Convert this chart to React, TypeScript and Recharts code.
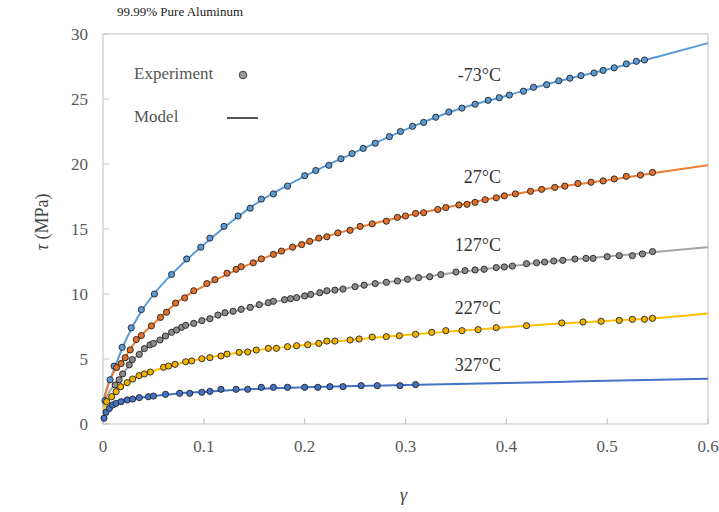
import {
  ComposedChart,
  Line,
  ReferenceLine,
  Scatter,
  XAxis,
  YAxis,
} from "recharts";

// model curves, sampled on a shared strain grid
const gammaGrid = [0, 0.0025, 0.005, 0.01, 0.02, 0.03, 0.04, 0.05, 0.075, 0.1, 0.15, 0.2, 0.25, 0.3, 0.35, 0.4, 0.45, 0.5, 0.55, 0.6];
const modelM73 = [1.6, 2.4, 3.0, 4.0, 6.0, 7.6, 8.9, 9.95, 12.05, 13.8, 16.85, 19.05, 20.9, 22.65, 24.15, 25.25, 26.35, 27.27, 28.25, 29.3];
const model27 = [1.4, 2.3, 3.0, 3.9, 4.9, 6.1, 6.97, 7.7, 9.45, 10.6, 12.45, 13.9, 15.05, 16.0, 16.8, 17.58, 18.22, 18.75, 19.35, 19.9];
const model127 = [1.3, 1.9, 2.3, 2.9, 3.85, 4.95, 5.7, 6.2, 7.32, 8.0, 9.05, 9.85, 10.56, 11.1, 11.65, 12.1, 12.55, 12.88, 13.25, 13.6];
const model227 = [1.0, 1.45, 1.75, 2.2, 2.98, 3.48, 3.82, 4.08, 4.65, 5.05, 5.65, 6.08, 6.5, 6.85, 7.15, 7.45, 7.72, 7.93, 8.15, 8.5];
const model327 = [0.3, 0.9, 1.2, 1.5, 1.8, 1.95, 2.05, 2.15, 2.35, 2.47, 2.7, 2.82, 2.92, 3.0, 3.08, 3.16, 3.24, 3.32, 3.4, 3.48];

// experiment points: [gamma, tau]
const expM73 = [
  [0.002, 1.8], [0.007, 3.4], [0.011, 4.45], [0.019, 5.9], [0.028, 7.4], [0.038, 8.8], [0.051, 10.0],
  [0.068, 11.5], [0.083, 12.7], [0.097, 13.6], [0.106, 14.3], [0.12, 15.2], [0.134, 16.0], [0.146, 16.6],
  [0.157, 17.3], [0.169, 17.7], [0.183, 18.3], [0.2, 19.1], [0.211, 19.5], [0.224, 19.9], [0.236, 20.4],
  [0.247, 20.8], [0.258, 21.2], [0.27, 21.6], [0.284, 22.1], [0.295, 22.5], [0.307, 22.9], [0.318, 23.2],
  [0.33, 23.6], [0.343, 24.0], [0.356, 24.3], [0.369, 24.6], [0.382, 24.9], [0.393, 25.1], [0.403, 25.3],
  [0.417, 25.6], [0.427, 25.9], [0.44, 26.1], [0.452, 26.4], [0.463, 26.6], [0.474, 26.8], [0.487, 27.0],
  [0.496, 27.2], [0.507, 27.4], [0.519, 27.7], [0.529, 27.9], [0.537, 28.0],
];
const exp27 = [
  [0.0135, 4.35], [0.018, 4.65], [0.022, 5.1], [0.027, 5.7], [0.033, 6.5], [0.038, 6.8], [0.048, 7.55],
  [0.057, 8.2], [0.063, 8.6], [0.072, 9.3], [0.081, 9.7], [0.09, 10.25], [0.103, 10.8], [0.111, 11.1],
  [0.123, 11.6], [0.132, 11.9], [0.137, 12.1], [0.149, 12.4], [0.157, 12.7], [0.169, 13.05], [0.177, 13.3],
  [0.188, 13.6], [0.197, 13.8], [0.205, 14.05], [0.214, 14.3], [0.222, 14.4], [0.233, 14.7], [0.245, 14.9],
  [0.255, 15.2], [0.267, 15.4], [0.281, 15.6], [0.292, 15.9], [0.3, 16.0], [0.31, 16.2], [0.318, 16.25],
  [0.332, 16.5], [0.34, 16.65], [0.353, 16.85], [0.361, 16.9], [0.369, 17.05], [0.379, 17.25], [0.39, 17.4],
  [0.398, 17.55], [0.409, 17.7], [0.424, 17.9], [0.435, 18.05], [0.448, 18.2], [0.458, 18.3], [0.471, 18.5],
  [0.484, 18.6], [0.496, 18.7], [0.507, 18.85], [0.519, 19.05], [0.533, 19.15], [0.545, 19.35],
];
const exp127 = [
  [0.012, 3.0], [0.016, 3.4], [0.0195, 3.85], [0.026, 4.55], [0.029, 4.95], [0.036, 5.35], [0.041, 5.8],
  [0.0466, 6.08], [0.05, 6.2], [0.0565, 6.46], [0.062, 6.77], [0.068, 7.05], [0.073, 7.23], [0.078, 7.44],
  [0.082, 7.59], [0.09, 7.74], [0.098, 7.95], [0.106, 8.1], [0.114, 8.38], [0.121, 8.56], [0.129, 8.67],
  [0.137, 8.82], [0.146, 8.97], [0.155, 9.18], [0.164, 9.33], [0.169, 9.44], [0.18, 9.56], [0.186, 9.64],
  [0.192, 9.72], [0.2, 9.85], [0.206, 9.97], [0.215, 10.1], [0.222, 10.25], [0.23, 10.3], [0.238, 10.38],
  [0.25, 10.56], [0.259, 10.68], [0.27, 10.8], [0.281, 10.9], [0.292, 11.0], [0.302, 11.13], [0.313, 11.26],
  [0.324, 11.33], [0.335, 11.49], [0.35, 11.69], [0.359, 11.8], [0.369, 11.85], [0.378, 11.9], [0.39, 12.03],
  [0.398, 12.08], [0.406, 12.15], [0.42, 12.33], [0.43, 12.4], [0.438, 12.46], [0.447, 12.54], [0.456, 12.59],
  [0.468, 12.69], [0.479, 12.74], [0.486, 12.74], [0.5, 12.87], [0.512, 12.95], [0.525, 12.95], [0.535, 13.08],
  [0.545, 13.26],
];
const exp227 = [
  [0.0036, 1.72], [0.0086, 2.1], [0.013, 2.49], [0.0175, 2.87], [0.024, 3.18], [0.0294, 3.46], [0.0357, 3.72],
  [0.041, 3.85], [0.047, 4.0], [0.06, 4.36], [0.065, 4.46], [0.0714, 4.59], [0.082, 4.79], [0.088, 4.85],
  [0.098, 5.02], [0.106, 5.1], [0.117, 5.23], [0.123, 5.38], [0.135, 5.51], [0.1435, 5.54], [0.152, 5.69],
  [0.164, 5.82], [0.172, 5.82], [0.183, 5.95], [0.192, 6.02], [0.203, 6.1], [0.214, 6.2], [0.222, 6.38],
  [0.23, 6.38], [0.245, 6.46], [0.254, 6.54], [0.267, 6.69], [0.281, 6.72], [0.294, 6.79], [0.31, 6.9],
  [0.326, 7.05], [0.34, 7.18], [0.356, 7.18], [0.372, 7.26], [0.39, 7.41], [0.42, 7.56], [0.455, 7.77],
  [0.476, 7.85], [0.494, 7.9], [0.512, 7.97], [0.525, 8.05], [0.537, 8.05], [0.545, 8.13],
];
const exp327 = [
  [0.001, 0.44], [0.003, 0.9], [0.0063, 1.2], [0.0096, 1.46], [0.013, 1.59], [0.018, 1.72], [0.024, 1.85],
  [0.0294, 1.92], [0.036, 2.03], [0.045, 2.1], [0.05, 2.15], [0.062, 2.28], [0.076, 2.36], [0.086, 2.36],
  [0.098, 2.44], [0.106, 2.51], [0.117, 2.67], [0.132, 2.67], [0.1435, 2.67], [0.157, 2.82], [0.169, 2.82],
  [0.183, 2.82], [0.2, 2.82], [0.213, 2.82], [0.225, 2.87], [0.238, 2.87], [0.256, 2.95], [0.272, 2.95],
  [0.2945, 2.95], [0.31, 3.03],
];

const xTicks = [0, 0.1, 0.2, 0.3, 0.4, 0.5, 0.6];
const yTicks = [0, 5, 10, 15, 20, 25, 30];

const series = [
  { key: "m73", label: "-73°C", model: modelM73, exp: expM73, line: "#5b9bd5", dot: "#5b9bd5", labelY: 75 },
  { key: "t27", label: "27°C", model: model27, exp: exp27, line: "#ed7d31", dot: "#e0702a", labelY: 177 },
  { key: "t127", label: "127°C", model: model127, exp: exp127, line: "#a5a5a5", dot: "#8a8a8a", labelY: 245 },
  { key: "t227", label: "227°C", model: model227, exp: exp227, line: "#ffc000", dot: "#f2b200", labelY: 308 },
  { key: "t327", label: "327°C", model: model327, exp: exp327, line: "#4472c4", dot: "#4472c4", labelY: 365 },
];

const modelRows = gammaGrid.map((g, i) => {
  const row: Record<string, number> = { x: g };
  series.forEach((s) => (row[s.key] = s.model[i]));
  return row;
});

const serif = "'Liberation Serif', 'Times New Roman', serif";
const tickStyle = { fontSize: 17, fill: "#595959", fontFamily: serif };

const dotShape = (color: string) => (props: any) =>
  <circle cx={props.cx} cy={props.cy} r={3.1} fill={color} stroke="#222" strokeWidth={0.9} />;

export default function App() {
  return (
    <div style={{ position: "absolute", left: 0, top: 0, width: 719, height: 512, background: "#fff", fontFamily: serif }}>
      <ComposedChart width={719} height={512} data={modelRows} margin={{ top: 34, right: 11, bottom: 0, left: 0 }}>
        <XAxis
          dataKey="x"
          type="number"
          domain={[0, 0.6]}
          ticks={xTicks}
          height={88}
          stroke="#bfbfbf"
          tickSize={-6}
          tickMargin={22}
          tick={tickStyle}
        />
        <YAxis
          type="number"
          domain={[0, 30]}
          ticks={yTicks}
          width={103}
          stroke="#bfbfbf"
          tickSize={-6}
          tickMargin={21}
          tick={tickStyle}
        />
        <ReferenceLine y={30} stroke="#bfbfbf" />
        <ReferenceLine x={0.6} stroke="#bfbfbf" />
        {series.map((s) => (
          <Line
            key={s.key}
            type="monotone"
            dataKey={s.key}
            stroke={s.line}
            strokeWidth={2}
            dot={false}
            isAnimationActive={false}
          />
        ))}
        {series.map((s) => (
          <Scatter
            key={s.key + "-exp"}
            data={s.exp.map(([x, y]) => ({ x, y }))}
            dataKey="y"
            shape={dotShape(s.dot)}
            isAnimationActive={false}
          />
        ))}
      </ComposedChart>

      <div style={{ position: "absolute", left: 117, top: 4, fontSize: 13, color: "#222" }}>
        99.99% Pure Aluminum
      </div>

      {series.map((s) => (
        <div
          key={s.key + "-label"}
          style={{ position: "absolute", right: 719 - 501, top: s.labelY - 11, fontSize: 18, color: "#333", lineHeight: "22px" }}
        >
          {s.label}
        </div>
      ))}

      <div style={{ position: "absolute", left: 134, top: 63, fontSize: 17, color: "#555", lineHeight: "22px" }}>
        Experiment
      </div>
      <svg style={{ position: "absolute", left: 236, top: 68 }} width={14} height={14}>
        <circle cx={7} cy={7} r={3.8} fill="#9a9a9a" stroke="#444" strokeWidth={1} />
      </svg>
      <div style={{ position: "absolute", left: 134, top: 106, fontSize: 17, color: "#555", lineHeight: "22px" }}>
        Model
      </div>
      <svg style={{ position: "absolute", left: 226, top: 114 }} width={33} height={8}>
        <line x1={1} y1={4} x2={32} y2={4} stroke="#555" strokeWidth={2} />
      </svg>

      <div
        style={{
          position: "absolute",
          left: 42,
          top: 222,
          transform: "translate(-50%, -50%) rotate(-90deg)",
          whiteSpace: "nowrap",
          fontSize: 18,
          color: "#444",
        }}
      >
        <i>τ</i> (MPa)
      </div>
      <div style={{ position: "absolute", left: 400, top: 485, fontSize: 18, color: "#444" }}>
        <i>γ</i>
      </div>
    </div>
  );
}
